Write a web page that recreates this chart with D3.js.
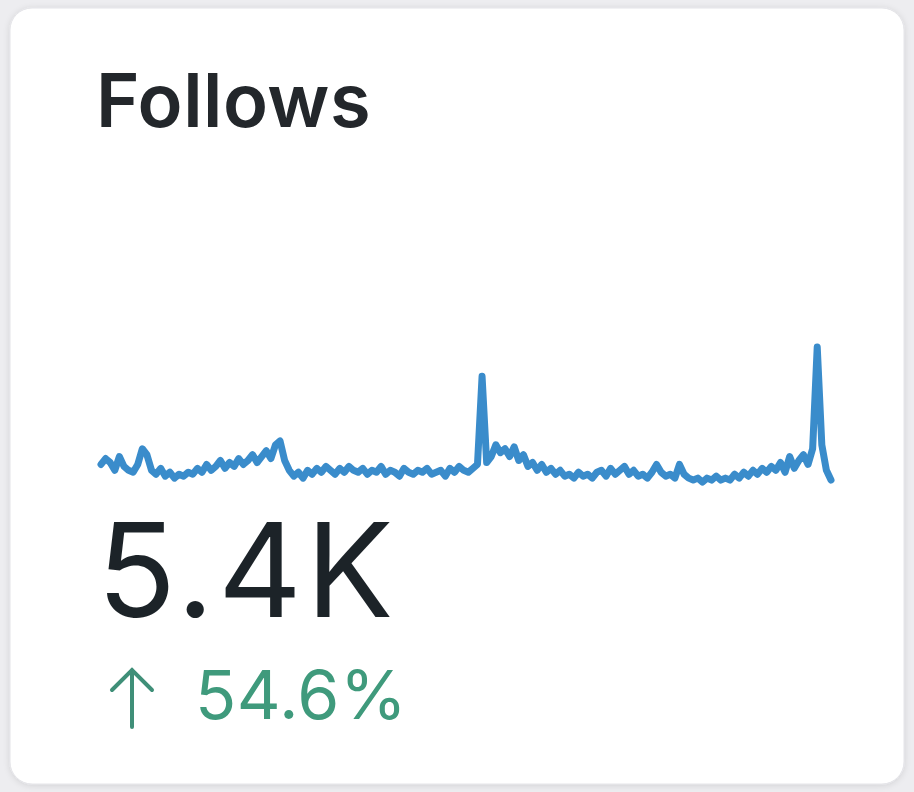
<!DOCTYPE html>
<html>
<head>
<meta charset="utf-8">
<script src="https://cdn.jsdelivr.net/npm/d3@7"></script>
<style>
  html, body { margin: 0; padding: 0; background: #ededf0; }
  svg { display: block; }
</style>
</head>
<body>
<div id="card"></div>
<script>
const title = "Follows"
const total = "5.4K"
const change = "54.6%"

// daily follows
const follows = [
  20,26,22,14,28,18,14,12,20,36,30,
  14,10,16,8,12,6,10,8,12,10,
  16,12,20,14,18,24,16,22,18,26,20,24,30,22,28,34,26,40,44,24,
  14,8,12,6,14,10,16,12,18,14,10,16,12,18,14,12,16,10,14,12,
  18,10,14,12,8,16,12,10,14,12,16,10,12,14,8,16,12,18,14,12,16,20,
  110,
  22,28,40,32,36,28,38,24,30,18,22,14,20,12,16,10,14,
  8,10,6,12,8,10,6,12,14,8,16,10,14,18,10,14,8,10,6,12,20,12,8,10,6,
  20,10,6,4,6,2,6,4,8,4,6,4,10,6,12,8,14,10,16,12,
  18,14,22,12,28,16,24,30,20,36,
  140,40,14,4]

const width = 914, height = 792
const svg = d3.select("#card").append("svg").attr("width", width).attr("height", height)

const defs = svg.append("defs")
const f = defs.append("filter").attr("id", "sh").attr("x", "-5%").attr("y", "-5%").attr("width", "110%").attr("height", "110%")
f.append("feDropShadow").attr("dx", 0).attr("dy", 1).attr("stdDeviation", 3).attr("flood-color", "#000").attr("flood-opacity", 0.12)

svg.append("rect")
    .attr("x", 10).attr("y", 8)
    .attr("width", 894).attr("height", 776)
    .attr("rx", 22)
    .attr("fill", "#fff")
    .attr("stroke", "#e4e4e8")
    .attr("filter", "url(#sh)")

svg.append("text")
    .attr("x", 96).attr("y", 127)
    .text(title)
    .style("font-family", "Inter, 'Open Sans', sans-serif")
    .style("font-weight", 600)
    .style("font-size", "74px")
    .style("letter-spacing", "0.5px")
    .style("fill", "#23272b")

const x = d3.scaleLinear().domain([0, follows.length - 1]).range([101, 831])
const y = d3.scaleLinear().domain([0, 140]).range([484, 347])

const line = d3.line()
    .x((d, i) => x(i))
    .y(d => y(d))

svg.append("path")
    .datum(follows)
    .attr("d", line)
    .attr("fill", "none")
    .attr("stroke", "#3a8ccb")
    .attr("stroke-width", 7)
    .attr("stroke-linejoin", "round")
    .attr("stroke-linecap", "round")

svg.append("text")
    .attr("x", 97).attr("y", 617)
    .text(total)
    .style("font-family", "Inter, 'Open Sans', sans-serif")
    .style("font-weight", 400)
    .style("font-size", "130px")
    .style("letter-spacing", "4px")
    .style("fill", "#1c2328")

// up arrow
svg.append("path")
    .attr("d", "M132,670 L132,727 M112,690 L132,670 L152,690")
    .attr("fill", "none")
    .attr("stroke", "#3f8f78")
    .attr("stroke-width", 4)
    .attr("stroke-linecap", "round")

svg.append("text")
    .attr("x", 195).attr("y", 719)
    .text(change)
    .style("font-family", "Inter, 'Open Sans', sans-serif")
    .style("font-weight", 400)
    .style("font-size", "68px")
    .style("letter-spacing", "0.5px")
    .style("fill", "#3f9a7c")
</script>
</body>
</html>
